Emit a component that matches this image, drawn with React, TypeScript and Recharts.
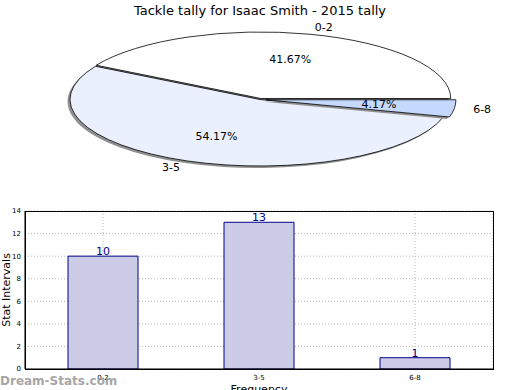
import React from "react";
import { PieChart, Pie, Cell, BarChart, Bar, XAxis, YAxis, CartesianGrid, LabelList } from "recharts";

const title = "Tackle tally for Isaac Smith - 2015 tally";
const categories = ["0-2", "3-5", "6-8"];
const counts = [10, 13, 1];
const yTicks = [0, 2, 4, 6, 8, 10, 12, 14];

const FONT = "DejaVu Sans, sans-serif";
const RAD = Math.PI / 180;
const SQUASH = 0.35;
const sliceColors = ["#ffffff", "#eaf0fd", "#c5d8fd"];
const explode = [3, 0, 6];

const pieData = categories.map((name, i) => ({ name, value: counts[i] }));
const barData = categories.map((name, i) => ({ name, count: counts[i] }));

function slicePath(cx: number, cy: number, rx: number, ry: number, a0: number, a1: number) {
  const x0 = cx + rx * Math.cos(-a0 * RAD);
  const y0 = cy + ry * Math.sin(-a0 * RAD);
  const x1 = cx + rx * Math.cos(-a1 * RAD);
  const y1 = cy + ry * Math.sin(-a1 * RAD);
  const large = Math.abs(a1 - a0) > 180 ? 1 : 0;
  return `M${cx},${cy} L${x0},${y0} A${rx},${ry} 0 ${large} 0 ${x1},${y1} Z`;
}

function EllipseSlice(props: any) {
  const { cx, cy, outerRadius, startAngle, endAngle, fill, payload } = props;
  const idx = categories.indexOf(props.name ?? payload?.name);
  const mid = (startAngle + endAngle) / 2;
  const e = explode[idx] ?? 0;
  const ox = cx + e * Math.cos(-mid * RAD);
  const oy = cy + e * SQUASH * Math.sin(-mid * RAD);
  const rx = outerRadius;
  const ry = outerRadius * SQUASH;
  return (
    <g>
      <path d={slicePath(ox - 2.5, oy + 2, rx, ry, startAngle, endAngle)} fill="#909090" stroke="none" />
      <path d={slicePath(ox, oy, rx, ry, startAngle, endAngle)} fill={fill} stroke="#000" strokeWidth={0.8} />
    </g>
  );
}

function SliceLabel(props: any) {
  const { cx, cy, midAngle, outerRadius, percent, name } = props;
  const idx = categories.indexOf(name);
  const e = explode[idx] ?? 0;
  const c = Math.cos(-midAngle * RAD);
  const s = Math.sin(-midAngle * RAD);
  const ox = cx + e * c;
  const oy = cy + e * SQUASH * s;
  const rx = outerRadius;
  const ry = outerRadius * SQUASH;
  return (
    <g fontFamily={FONT} fontSize={11} fill="#000">
      <text x={ox + 0.6 * rx * c} y={oy + 0.6 * ry * s} textAnchor="middle" dominantBaseline="central">
        {(percent * 100).toFixed(2)}%
      </text>
      <text
        x={ox + 1.1 * rx * c}
        y={oy + 1.1 * ry * s}
        textAnchor={c >= 0 ? "start" : "end"}
        dominantBaseline="central"
      >
        {name}
      </text>
    </g>
  );
}

export default function App() {
  return (
    <div style={{ position: "absolute", left: 0, top: 0, width: 520, height: 390, background: "#fff", fontFamily: FONT, overflow: "hidden" }}>
      <div style={{ position: "absolute", left: 0, top: 0 }}>
        <PieChart width={520} height={200}>
          <Pie
            data={pieData}
            dataKey="value"
            nameKey="name"
            cx={255}
            cy={94.5}
            outerRadius={190}
            startAngle={0}
            endAngle={360}
            stroke="#000"
            isAnimationActive={false}
            labelLine={false}
            label={SliceLabel}
            shape={EllipseSlice}
            activeShape={EllipseSlice}
            inactiveShape={EllipseSlice}
          >
            {pieData.map((d, i) => (
              <Cell key={d.name} fill={sliceColors[i]} />
            ))}
          </Pie>
        </PieChart>
      </div>
      <div style={{ position: "absolute", left: 0, top: 200 }}>
        <BarChart width={520} height={190} data={barData} margin={{ top: 11, right: 27, left: 0, bottom: 0 }} barSize={70}>
          <CartesianGrid stroke="#b8b8b8" strokeDasharray="1 2" />
          <XAxis
            dataKey="name"
            height={21}
            tickLine={false}
            tickSize={3}
            tickMargin={3}
            axisLine={{ stroke: "#000" }}
            tick={{ fontSize: 7, fill: "#000", fontFamily: FONT }}
          />
          <YAxis
            width={25}
            domain={[0, 14]}
            ticks={yTicks}
            interval={0}
            tickLine={false}
            tickSize={3}
            tickMargin={1}
            axisLine={{ stroke: "#000" }}
            tick={{ fontSize: 7, fill: "#000", fontFamily: FONT }}
          />
          <Bar dataKey="count" fill="#ccccE6" stroke="#00008b" strokeWidth={1} isAnimationActive={false}>
            <LabelList dataKey="count" position="top" offset={1} fill="#00008b" fontSize={11} fontFamily={FONT} />
          </Bar>
        </BarChart>
      </div>
      <svg width={520} height={390} style={{ position: "absolute", left: 0, top: 0, pointerEvents: "none" }}>
        <text x={260} y={15} textAnchor="middle" fontSize={13} fontFamily={FONT} fill="#000">
          {title}
        </text>
        <rect x={25.5} y={211.5} width={468} height={158} fill="none" stroke="#000" strokeWidth={1} />
        <text x={0} y={0} transform="translate(9.5,290) rotate(-90)" textAnchor="middle" fontSize={11} fontFamily={FONT} fill="#000">
          Stat Intervals
        </text>
        <text x={259} y={393} textAnchor="middle" fontSize={11} fontFamily={FONT} fill="#000">
          Frequency
        </text>
        <text x={0} y={385} fontSize={12} fontWeight="bold" fontFamily={FONT} fill="#9a9a9a" fillOpacity={0.9}>
          Dream-Stats.com
        </text>
      </svg>
    </div>
  );
}
